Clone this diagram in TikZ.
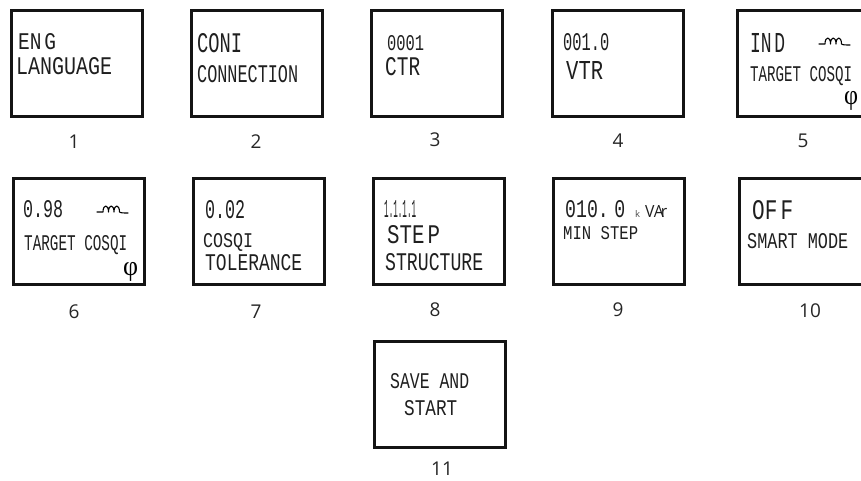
\documentclass[tikz,border=0pt]{standalone}
\usepackage{graphicx}
\usepackage{fontspec}
\setmainfont{Open Sans}
\newfontfamily\lcdfont{Liberation Mono}
\newfontfamily\symfont{Liberation Serif}
\tikzset{
  panel/.style={draw=black!92,line width=3.4pt,fill=white,rectangle,inner sep=0pt,anchor=north west},
  lcdline/.style={inner sep=0pt,anchor=base west,text=black!88,font=\lcdfont},
  caption/.style={inner sep=0pt,anchor=center,text=black!85,font=\fontsize{19}{19}\selectfont},
  coil/.style={draw=black,line width=1.1pt,line cap=round,line join=round}
}
% name, left, top, right-left, bottom-top, caption, cap x, cap y
\newcommand{\lcdpanel}[8]{%
  \node[panel,minimum width=#4pt,minimum height=#5pt] (#1) at (#2,#3) {};
  \node[caption] (#1cap) at (#7,#8) {#6};
}
% name, x, baseline, width, height, text
\newcommand{\lcdtxt}[6]{%
  \node[lcdline] (#1) at (#2,#3) {\raisebox{0pt}[\height][0pt]{\resizebox{#4pt}{#5pt}{#6}}};
}
\newcommand{\coilmark}[2]{%
  \begin{scope}[shift={(#1,#2)}]
  \draw[coil] (0,0) -- (6,0) .. controls (6,-8) and (11.5,-8) .. (11.5,0)
     .. controls (11.5,-8) and (17,-8) .. (17,0)
     .. controls (17,-8) and (22.5,-8) .. (22.5,0)
     .. controls (23.5,1) and (27,1) .. (31,1);
  \end{scope}
}
\newcommand{\phimark}[5]{%
  \node[inner sep=0pt,anchor=south west,font=\symfont] (#1) at (#2,#3) {\resizebox*{#4pt}{#5pt}{φ}};
}
\begin{document}
\begin{tikzpicture}[x=1pt,y=-1pt]
\useasboundingbox (0,0) rectangle (861,480);
\clip (0,0) rectangle (861,480);
\lcdpanel{p1}{10}{9}{130.6}{105.6}{1}{74}{142}
\lcdpanel{p2}{190}{9}{130.6}{105.6}{2}{256}{142}
\lcdpanel{p3}{370}{9}{130.6}{105.6}{3}{435}{140}
\lcdpanel{p4}{551}{9}{130.6}{105.6}{4}{618}{141}
\lcdpanel{p5}{736}{9}{130.6}{105.6}{5}{803}{141}
\lcdpanel{p6}{12}{177}{130.6}{105.6}{6}{74}{312}
\lcdpanel{p7}{192}{177}{130.6}{105.6}{7}{256}{312}
\lcdpanel{p8}{372}{177}{130.6}{105.6}{8}{435}{310}
\lcdpanel{p9}{552}{177}{130.6}{105.6}{9}{618}{310}
\lcdpanel{p10}{738}{177}{130.6}{105.6}{10}{810}{311}
\lcdpanel{p11}{373}{340}{130.6}{105.6}{11}{442}{469}

\lcdtxt{a1}{18}{49}{38}{16}{EN\kern.15em G}
\lcdtxt{a2}{16}{74}{96}{17}{LANGUAGE}
\lcdtxt{b1}{197}{52}{45}{19}{CONI}
\lcdtxt{b2}{197}{82}{101}{17}{CONNECTION}
\lcdtxt{c1}{387}{50}{37}{15}{0001}
\lcdtxt{c2}{385}{75}{35}{18}{CTR}
\lcdtxt{d1}{563}{50}{46}{17}{001.0}
\lcdtxt{d2}{566}{79}{37}{18}{VTR}
\lcdtxt{e1}{750}{52}{35}{19}{IN\kern.15em D}
\lcdtxt{e2}{750}{81}{102}{15}{TARGET COSQI}
\coilmark{819}{44}
\phimark{e3}{844}{111}{14}{19}
\lcdtxt{f1}{23}{217}{40}{17}{0.98}
\lcdtxt{f2}{24}{250}{103}{15}{TARGET COSQI}
\coilmark{97}{212}
\phimark{f3}{123}{282}{15}{19}
\lcdtxt{g1}{205}{218}{40}{18}{0.02}
\lcdtxt{g2}{203}{247}{50}{14}{COSQI}
\lcdtxt{g3}{205}{270}{97}{16}{TOLERANCE}
\lcdtxt{h1}{384}{217}{32}{17}{1.1.1.1}
\lcdtxt{h2}{387}{243}{53}{18}{STE\kern.15em P}
\lcdtxt{h3}{385}{270}{98}{17}{STRUCTURE}
\lcdtxt{i1}{565}{217}{60}{17}{010.\kern.3em 0}
\node[inner sep=0pt,anchor=base west,text=black!70] (i2) at (635,217) {\resizebox{5pt}{7pt}{k}};
\node[inner sep=0pt,anchor=base west,text=black!88] (i3) at (645,217) {\resizebox{22pt}{12pt}{VA\kern-.2em r}};
\lcdtxt{i4}{563}{239}{75}{13}{MIN STEP}
\lcdtxt{j1}{752}{219}{41}{19}{OF\kern.15em F}
\lcdtxt{j2}{747}{248}{101}{15}{SMART MODE}
\lcdtxt{k1}{390}{388}{79}{15}{SAVE AND}
\lcdtxt{k2}{404}{415}{53}{15}{START}
\end{tikzpicture}
\end{document}
